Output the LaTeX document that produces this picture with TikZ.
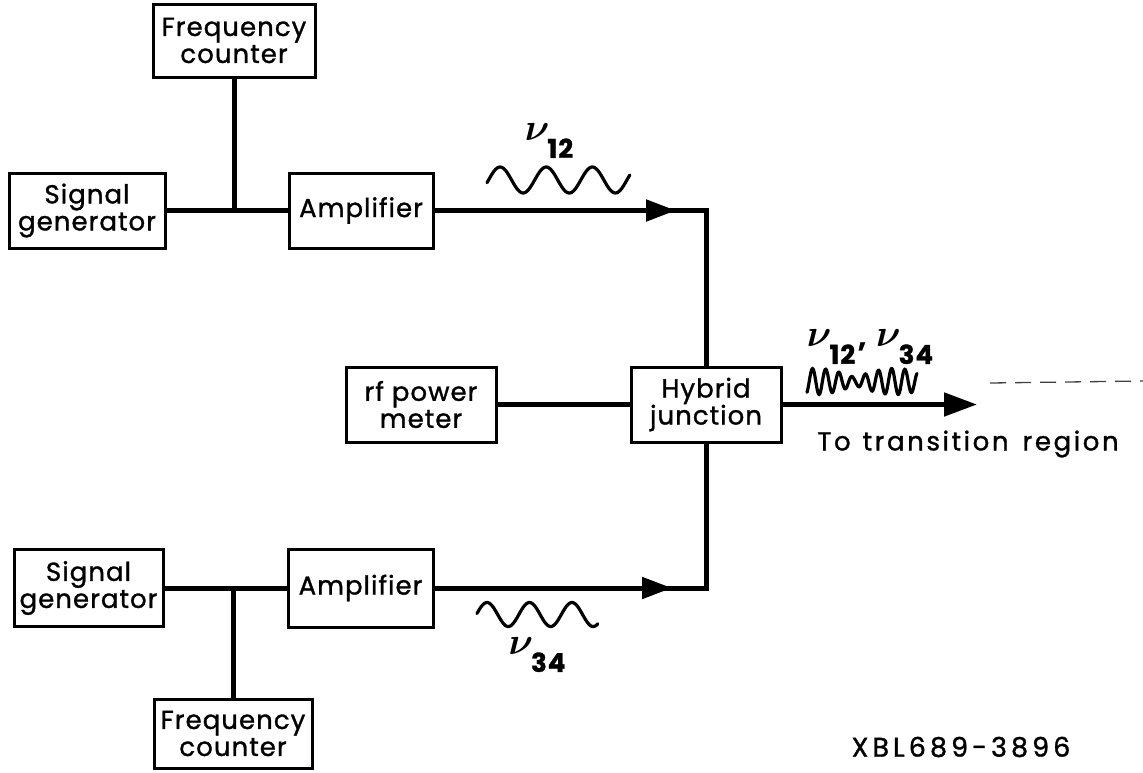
\RequirePackage{fix-cm}
\documentclass[tikz,border=0pt]{standalone}
\usepackage{amsmath,bm}
\usepackage{fontspec}
\setmainfont{Poppins}[LetterSpace=4,FakeBold=1.2]
\usetikzlibrary{arrows.meta,decorations.markings}
\newcommand\nusym{{\fontsize{38}{38}\selectfont$\bm{\nu}$}}
\newcommand\nulab[1]{\nusym\hspace{-2pt}\raisebox{-17pt}{\fontsize{26}{26}\selectfont\bfseries #1}}
\tikzset{
  mytip/.tip={Triangle[length=30pt,width=21pt]},
  bigtip/.tip={Triangle[length=33pt,width=23pt]}
}
\begin{document}
\begin{tikzpicture}[x=1pt,y=-1pt,
  box/.style={draw, line width=3pt, inner sep=0pt, outer sep=0pt, align=center,
    font=\fontsize{26}{27}\selectfont},
  conn/.style={line width=5pt},
  wave/.style={line width=3.2pt, line cap=round},
  lbl/.style={inner sep=0pt, outer sep=0pt}
]
\useasboundingbox (0,0) rectangle (1143,772);
% boxes
\node[box, minimum width=162pt, minimum height=73pt] (fc1) at (234,40.5) {Frequency\\counter};
\node[box, minimum width=156pt, minimum height=75pt] (sg1) at (87,210.5) {Signal\\generator};
\node[box, minimum width=144pt, minimum height=75pt] (amp1) at (361,210.5) {Amplifier};
\node[box, minimum width=149pt, minimum height=77pt] (sg2) at (88.5,588) {Signal\\generator};
\node[box, minimum width=145pt, minimum height=78pt] (amp2) at (360.5,588) {Amplifier};
\node[box, minimum width=158pt, minimum height=69pt] (fc2) at (233,733.5) {Frequency\\counter};
\node[box, minimum width=150pt, minimum height=75pt] (rf) at (421,404.5) {rf\hspace{8pt}power\\meter};
\node[box, minimum width=150pt, minimum height=75pt] (hyb) at (706,404.5) {Hybrid\\junction};
\coordinate (out) at (977,404.5);
% connectors
\draw[conn] (sg1.east) -- (amp1.west);
\draw[conn] (fc1.south) -- (fc1.south |- sg1.east);
\draw[conn] (sg2.east) -- (amp2.west);
\draw[conn] (fc2.north) -- (fc2.north |- sg2.east);
\draw[conn, decoration={markings, mark=at position 243pt with {\arrow{mytip}}}, postaction={decorate}]
  (amp1.east) -- (amp1.east -| hyb.north) -- (hyb.north);
\draw[conn, decoration={markings, mark=at position 239pt with {\arrow{mytip}}}, postaction={decorate}]
  (amp2.east) -- (amp2.east -| hyb.south) -- (hyb.south);
\draw[conn] (rf.east) -- (hyb.west);
\draw[conn, -bigtip] (hyb.east) -- (out);
% waves
\draw[wave] plot[domain=0:1, samples=120, smooth] ({487+143*\x}, {180-13*sin(1116*\x-12)});
\draw[wave] plot[domain=0:1, samples=120, smooth] ({477+121*\x}, {614.5-12*sin(1026*\x+5)});
\draw[wave] plot[domain=0:1, samples=200, smooth]
  ({807+110*\x}, {381.5-13*sin(3000*\x-60)*(0.3+0.7*abs(cos(252*(\x-0.08))))});
% labels
\node[lbl] (l12) at (549,141) {\nulab{12}};
\node[lbl] (l34) at (537,655) {\nulab{34}};
\node[lbl] (l1234) at (870,347) {\nulab{12}\hspace{3pt}{\fontsize{28}{28}\selectfont\bfseries ,}\hspace{10pt}\nulab{34}};
\node[lbl, font=\fontsize{26}{27}\selectfont\addfontfeature{LetterSpace=10}] (dest) at (968,444) {To\hspace{12pt}transition\hspace{14pt}region};
\node[lbl, font=\fontsize{27}{27}\selectfont\addfontfeature{LetterSpace=15}] (xbl) at (961,747) {XBL689-3896};
% faint scan mark
\draw[line width=1.3pt, black!75, dash pattern=on 16pt off 9pt] (990,383) -- (1143,381);
\end{tikzpicture}
\end{document}
